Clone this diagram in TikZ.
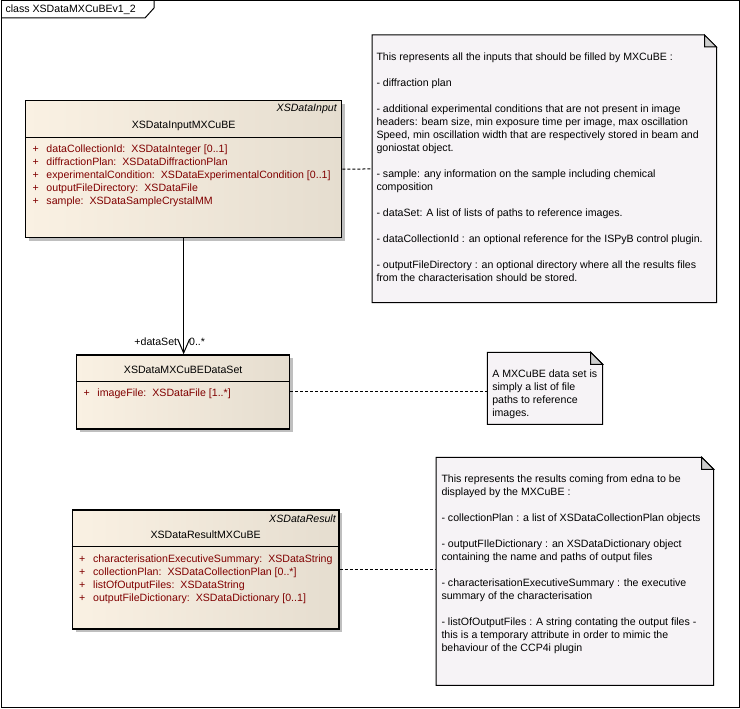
\documentclass[tikz,border=0pt]{standalone}
\usepackage{fontspec}
\setmainfont{Liberation Sans}
\usetikzlibrary{positioning, shadows, arrows.meta}

\definecolor{attrred}{RGB}{128,0,0}
\definecolor{classlight}{RGB}{250,241,227}
\definecolor{classdark}{RGB}{229,221,207}
\definecolor{notefill}{RGB}{246,243,246}
\definecolor{earfill}{RGB}{205,205,205}

\newcommand{\umlfont}{\fontsize{10.6}{13}\selectfont}
\newcommand{\attr}[2]{\makebox[14pt][l]{+}#1:\hspace{6pt}#2}
\newcommand{\dogear}[1]{%
  \draw[fill=notefill] (#1.north west) -- ([xshift=-12pt]#1.north east) -- ([yshift=-12pt]#1.north east) -- (#1.south east) -- (#1.south west) -- cycle;
  \draw[fill=earfill] ([xshift=-12pt]#1.north east) -- ([xshift=-12pt,yshift=-12pt]#1.north east) -- ([yshift=-12pt]#1.north east) -- cycle;}

\begin{document}
\begin{tikzpicture}[x=1pt, y=-1pt, on grid, font=\umlfont, line width=1pt,
  classbox/.style={draw, line width=1.3pt, left color=classlight, right color=classdark, inner sep=0pt, anchor=north west,
    drop shadow={shadow xshift=3.5pt, shadow yshift=-3.5pt, fill=black!25, opacity=1}},
  classname/.style={inner sep=0pt, anchor=center},
  stereo/.style={font=\umlfont\itshape, inner sep=0pt, anchor=east},
  attrs/.style={text=attrred, align=left, inner sep=0pt, anchor=north west},
  note/.style={inner sep=0pt, anchor=north west},
  notetext/.style={align=left, inner sep=0pt, anchor=north west},
  notelink/.style={dash pattern=on 3pt off 2pt},
  assoc/.style={-{Straight Barb[length=14pt, width=12pt]}}]
\useasboundingbox (0,0) rectangle (740,709);

% frame
\draw (1,1) rectangle (739,707.5);
\draw (1,18) -- (145,18) -- (154,8) -- (154,1);
\node[anchor=west, inner sep=0pt] (frametitle) at (5,9.5) {class XSDataMXCuBEv1\_2};

% input class
\node[classbox, minimum width=316pt, minimum height=137pt] (inputclass) at (25,100) {};
\node[below left=9pt and 5pt of inputclass.north east, stereo] (inputstereo) {XSDataInput};
\node[below=26pt of inputclass.north, classname] (inputname) {XSDataInputMXCuBE};
\draw ([yshift=-37.7pt]inputclass.north west) -- ([yshift=-37.7pt]inputclass.north east);
\node[below right=44.5pt and 7pt of inputclass.north west, attrs] (inputattrs) {%
  \attr{dataCollectionId}{XSDataInteger [0..1]}\\
  \attr{diffractionPlan}{XSDataDiffractionPlan}\\
  \attr{experimentalCondition}{XSDataExperimentalCondition [0..1]}\\
  \attr{outputFileDirectory}{XSDataFile}\\
  \attr{sample}{XSDataSampleCrystalMM}};

% data set class
\node[classbox, minimum width=213pt, minimum height=74pt] (datasetclass) at (76,354.3) {};
\node[below=15.7pt of datasetclass.north, classname] (datasetname) {XSDataMXCuBEDataSet};
\draw ([yshift=-26.7pt]datasetclass.north west) -- ([yshift=-26.7pt]datasetclass.north east);
\node[below right=34pt and 7pt of datasetclass.north west, attrs] (datasetattrs) {%
  \attr{imageFile}{XSDataFile [1..*]}};

% result class
\node[classbox, minimum width=266.6pt, minimum height=119pt] (resultclass) at (71.7,509.3) {};
\node[below left=9.7pt and 3.3pt of resultclass.north east, stereo] (resultstereo) {XSDataResult};
\node[below=25pt of resultclass.north, classname] (resultname) {XSDataResultMXCuBE};
\draw ([yshift=-36.7pt]resultclass.north west) -- ([yshift=-36.7pt]resultclass.north east);
\node[below right=45pt and 7pt of resultclass.north west, attrs] (resultattrs) {%
  \attr{characterisationExecutiveSummary}{XSDataString}\\
  \attr{collectionPlan}{XSDataCollectionPlan [0..*]}\\
  \attr{listOfOutputFiles}{XSDataString}\\
  \attr{outputFileDictionary}{XSDataDictionary [0..1]}};

% notes
\node[note, minimum width=343.5pt, minimum height=266.7pt] (inputnote) at (372,35) {};
\dogear{inputnote}
\node[below right=17.5pt and 4pt of inputnote.north west, notetext] (inputnotetext) {%
  This represents all the inputs that should be filled by MXCuBE :\\[13pt]
  - diffraction plan\\[13pt]
  - additional experimental conditions that are not present in image\\
  headers: beam size, min exposure time per image, max oscillation\\
  Speed, min oscillation width that are respectively stored in beam and\\
  goniostat object.\\[13pt]
  - sample: any information on the sample including chemical\\
  composition\\[13pt]
  - dataSet: A list of lists of paths to reference images.\\[13pt]
  - dataCollectionId : an optional reference for the ISPyB control plugin.\\[13pt]
  - outputFileDirectory : an optional directory where all the results files\\
  from the characterisation should be stored.};

\node[note, minimum width=114.4pt, minimum height=71pt] (datasetnote) at (487.3,352.3) {};
\dogear{datasetnote}
\node[below right=17pt and 4.5pt of datasetnote.north west, notetext] (datasetnotetext) {%
  A MXCuBE data set is\\
  simply a list of file\\
  paths to reference\\
  images.};

\node[note, minimum width=276.7pt, minimum height=227pt] (resultnote) at (436,457.3) {};
\dogear{resultnote}
\node[below right=17pt and 5pt of resultnote.north west, notetext] (resultnotetext) {%
  This represents the results coming from edna to be\\
  displayed by the MXCuBE :\\[13pt]
  - collectionPlan : a list of XSDataCollectionPlan objects\\[13pt]
  - outputFIleDictionary : an XSDataDictionary object\\
  containing the name and paths of output files\\[13pt]
  - characterisationExecutiveSummary : the executive\\
  summary of the characterisation\\[13pt]
  - listOfOutputFiles : A string contating the output files -\\
  this is a temporary attribute in order to mimic the\\
  behaviour of the CCP4i plugin};

% connectors
\draw[assoc] (inputclass.south) -- (inputclass.south |- datasetclass.north)
  node[pos=1, anchor=south east, inner sep=0pt, xshift=-6pt, yshift=8pt] (rolelabel) {+dataSet}
  node[pos=1, anchor=south west, inner sep=0pt, xshift=5pt, yshift=8pt] (multlabel) {0..*};
\draw[notelink] (inputclass) -- (inputnote);
\draw[notelink] (datasetclass) -- (datasetclass -| datasetnote.west);
\draw[notelink] (resultclass) -- (resultclass -| resultnote.west);
\end{tikzpicture}
\end{document}
